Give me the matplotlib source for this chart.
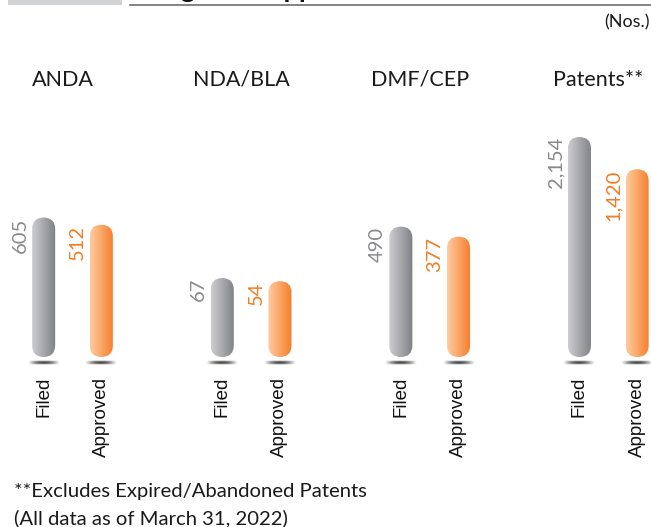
import numpy as np
import matplotlib
matplotlib.use('Agg')
import matplotlib.pyplot as plt
from matplotlib.patches import FancyBboxPatch, Rectangle
from matplotlib.image import BboxImage
from matplotlib.transforms import Bbox, IdentityTransform, blended_transform_factory
from matplotlib.lines import Line2D

# ---------------- data ----------------
categories = ['ANDA', 'NDA/BLA', 'DMF/CEP', 'Patents**']
series_names = ['Filed', 'Approved']
filed = [605, 67, 490, 2154]
approved = [512, 54, 377, 1420]
filed_labels = ['605', '67', '490', '2,154']
approved_labels = ['512', '54', '377', '1,420']
unit_note = '(Nos.)'
title_text = 'Filings and Approvals'
footnotes = ['**Excludes Expired/Abandoned Patents', '(All data as of March 31, 2022)']

# ---------------- figure ----------------
W, H, DPI = 651, 527, 100
fig = plt.figure(figsize=(W / DPI, H / DPI), dpi=DPI)
fig.patch.set_facecolor('white')


def fx(x):
    return x / W


def fy(y):  # y measured from the top in pixels
    return 1 - y / H


AX_BOTTOM, AX_TOP = 357, 100
ax = fig.add_axes([0, fy(AX_BOTTOM), 1, (AX_BOTTOM - AX_TOP) / H])
ax.axis('off')

# square-root value scale (infographic style)
OFFSET = 13.2
PX_PER_UNIT = 3.69


def fwd(v):
    v = np.asarray(v, dtype=float)
    return np.sign(v) * np.sqrt(np.abs(v))


def inv(u):
    u = np.asarray(u, dtype=float)
    return np.sign(u) * u ** 2


ax.set_yscale('function', functions=(fwd, inv))
u_low = -OFFSET
u_high = u_low + (AX_BOTTOM - AX_TOP) / PX_PER_UNIT
ax.set_ylim(float(inv(u_low)), float(inv(u_high)))

GROUP_PX, FIRST_PX = 178.6, 72.5
ax.set_xlim(-FIRST_PX / GROUP_PX, (W - FIRST_PX) / GROUP_PX)

BAR_OFF = 0.1615
BW = 0.129

GRAY = ((0.80, 0.80, 0.82), (0.50, 0.505, 0.52))
ORANGE = ((0.995, 0.80, 0.63), (0.96, 0.49, 0.16))
GRAY_TXT = '#88898c'
ORANGE_TXT = '#f47b20'

fig.canvas.draw()


def draw_bar(xc, val, cols):
    base = ax.get_ylim()[0]
    x0, y0 = ax.transData.transform((xc - BW / 2, base))
    x1, y1 = ax.transData.transform((xc + BW / 2, val))
    w = x1 - x0
    patch = FancyBboxPatch((x0, y0), w, y1 - y0,
                           boxstyle=f"round,pad=0,rounding_size={w / 2}",
                           transform=IdentityTransform(),
                           facecolor='none', edgecolor='none')
    t = np.linspace(0, 1, 64)[:, None]
    rgb = (1 - t) * np.array(cols[0]) + t * np.array(cols[1])
    img = BboxImage(Bbox.from_extents(x0, y0, x1, y1), interpolation='bilinear')
    img.set_data(rgb[None, :, :])
    img.set_clip_path(patch)
    fig.add_artist(img)
    # shadow under the bar
    cx = (x0 + x1) / 2
    sw, sh = 32, 5
    cy = y0 - 5.5
    xs = np.linspace(-1, 1, 64)[None, :]
    ys = np.linspace(-1, 1, 11)[:, None]
    a = np.clip(1 - xs ** 2, 0, 1) ** 1.2 * np.clip(1 - ys ** 2, 0, 1) ** 1.0
    rgba = np.zeros((11, 64, 4))
    rgba[..., :3] = 0.22
    rgba[..., 3] = a * 0.9
    sh_img = BboxImage(Bbox.from_extents(cx - sw / 2, cy - sh / 2, cx + sw / 2, cy + sh / 2),
                       interpolation='bilinear')
    sh_img.set_data(rgba)
    fig.add_artist(sh_img)


xtrans = blended_transform_factory(ax.transData, fig.transFigure)

for i, cat in enumerate(categories):
    for k, (vals, labs, cols, tcol) in enumerate([(filed, filed_labels, GRAY, GRAY_TXT),
                                                   (approved, approved_labels, ORANGE, ORANGE_TXT)]):
        xc = i + (BAR_OFF if k else -BAR_OFF)
        draw_bar(xc, vals[i], cols)
        ax.annotate(labs[i], xy=(xc - BW / 2, vals[i]), xytext=(-2.5, 0),
                    textcoords='offset points', rotation=90, ha='right', va='top',
                    fontsize=14.5, family='Lato', fontweight='normal', color=tcol,
                    annotation_clip=False)
        ax.text(xc, fy(377), series_names[k], transform=xtrans, rotation=90,
                ha='center', va='top', fontsize=13.5, family='Liberation Sans',
                color='#111111')
    ax.text(i - 10 / GROUP_PX, fy(86), cat, transform=xtrans, ha='center',
            va='baseline', fontsize=15.5, family='Lato', color='#1a1a1a')

# header decorations
fig.patches.append(Rectangle((fx(7.5), fy(5)), fx(114), 5 / H, transform=fig.transFigure,
                             facecolor='#d2d3d5', edgecolor='none', figure=fig))
fig.add_artist(Line2D([fx(130), 1], [fy(4.7), fy(4.7)], transform=fig.transFigure,
                      color='#6d6e71', linewidth=1.2))
fig.text(fx(130), fy(-2), title_text, ha='left', va='baseline', fontsize=19.5,
         family='Lato', fontweight='bold', color='#111111')
fig.text(fx(650), fy(27), unit_note, ha='right', va='baseline', fontsize=13,
         family='Lato', color='#1a1a1a')

for j, note in enumerate(footnotes):
    fig.text(fx(14), fy(497 + 27 * j), note, ha='left', va='baseline', fontsize=14.6,
             family='Lato', color='#1a1a1a')

fig.savefig('out.png', dpi=DPI, facecolor='white')
